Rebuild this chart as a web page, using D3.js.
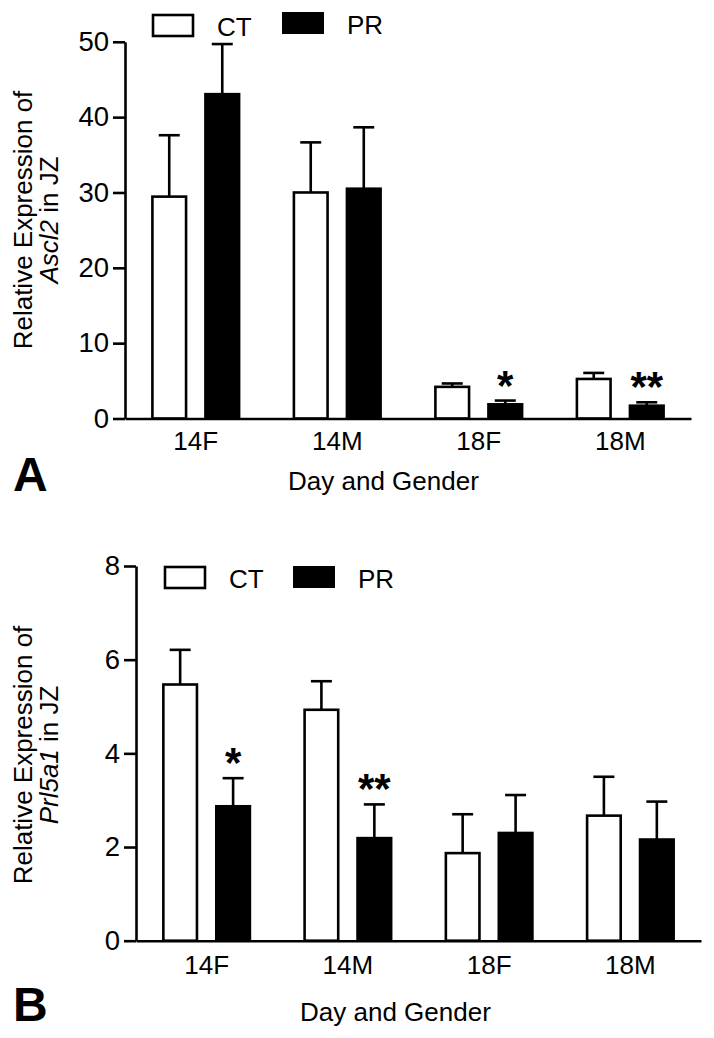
<!DOCTYPE html>
<html>
<head>
<meta charset="utf-8">
<script src="https://cdn.jsdelivr.net/npm/d3@7/dist/d3.min.js"></script>
<style>
  html, body { margin: 0; padding: 0; background: #fff; }
  svg { display: block; font-family: "Liberation Sans", Arial, Helvetica, sans-serif; }
</style>
</head>
<body>
<svg id="chart" width="714" height="1038"></svg>
<script>
// ---- data ----
const categories = ["14F", "14M", "18F", "18M"];
const seriesNames = ["CT", "PR"];

// Panel A: Ascl2
const ascl2CT = [29.45, 30.0, 4.2, 5.25];
const ascl2CTErr = [8.15, 6.65, 0.45, 0.8];
const ascl2PR = [43.05, 30.5, 1.88, 1.7];
const ascl2PRErr = [6.65, 8.15, 0.5, 0.45];
const ascl2Stars = ["", "", "*", "**"]; // on PR bars
const ascl2Ticks = [0, 10, 20, 30, 40, 50];

// Panel B: Prl5a1
const prl5a1CT = [5.47, 4.93, 1.87, 2.67];
const prl5a1CTErr = [0.74, 0.61, 0.83, 0.83];
const prl5a1PR = [2.87, 2.19, 2.3, 2.16];
const prl5a1PRErr = [0.6, 0.72, 0.81, 0.81];
const prl5a1Stars = ["*", "**", "", ""];
const prl5a1Ticks = [0, 2, 4, 6, 8];

const svg = d3.select("#chart");
const FS = 26;
const TICK_FS = 27.5;

function panel(opts) {
  const g = svg.append("g");
  const x0 = d3.scaleBand().domain(categories).range([opts.left, opts.right]).padding(0);
  const x1 = d3.scaleBand().domain(seriesNames).range([0, x0.bandwidth()])
    .paddingInner(0.32).paddingOuter(0.494);
  const y = d3.scaleLinear().domain([0, opts.max]).range([opts.bottom, opts.top]);

  const rows = categories.map((c, i) => ({
    cat: c,
    vals: [
      { s: "CT", v: opts.ct[i], e: opts.ctErr[i], star: "" },
      { s: "PR", v: opts.pr[i], e: opts.prErr[i], star: opts.stars[i] }
    ]
  }));

  const grp = g.selectAll("g.grp").data(rows).enter().append("g")
    .attr("transform", d => `translate(${x0(d.cat)},0)`);

  const bw = x1.bandwidth();
  const items = grp.selectAll("g.bar").data(d => d.vals).enter().append("g");

  // error bars (upward only)
  items.append("line")
    .attr("x1", d => x1(d.s) + bw / 2).attr("x2", d => x1(d.s) + bw / 2)
    .attr("y1", d => y(d.v)).attr("y2", d => y(d.v + d.e))
    .attr("stroke", "#000").attr("stroke-width", 2.6);
  items.append("line")
    .attr("x1", d => x1(d.s) + bw / 2 - 10.5).attr("x2", d => x1(d.s) + bw / 2 + 10.5)
    .attr("y1", d => y(d.v + d.e)).attr("y2", d => y(d.v + d.e))
    .attr("stroke", "#000").attr("stroke-width", 2.6);

  items.append("rect")
    .attr("x", d => x1(d.s) + 1.2)
    .attr("width", bw - 2.4)
    .attr("y", d => y(d.v))
    .attr("height", d => y(0) - y(d.v))
    .attr("fill", d => d.s === "CT" ? "#fff" : "#000")
    .attr("stroke", "#000").attr("stroke-width", 2.6);

  items.filter(d => d.star).append("text")
    .attr("x", d => x1(d.s) + bw / 2)
    .attr("y", d => y(d.v + d.e) - 1)
    .attr("text-anchor", "middle")
    .attr("font-size", 42).attr("font-weight", "bold")
    .text(d => d.star);

  // y axis
  const yAxis = d3.axisLeft(y).tickValues(opts.ticks).tickSize(12).tickSizeOuter(0).tickPadding(4)
    .tickFormat(d3.format("d"));
  const ya = g.append("g").attr("transform", `translate(${opts.left},0)`).call(yAxis);
  ya.select(".domain").attr("stroke", "#000").attr("stroke-width", 2.6);
  ya.selectAll(".tick line").attr("stroke", "#000").attr("stroke-width", 2.6);
  ya.selectAll(".tick text").attr("font-size", TICK_FS).attr("fill", "#000")
    .attr("font-family", "Liberation Sans, Arial, sans-serif");

  // x axis
  const xAxis = d3.axisBottom(x0).tickSize(0).tickSizeOuter(0).tickPadding(12);
  const xa = g.append("g").attr("transform", `translate(0,${opts.bottom})`).call(xAxis);
  xa.select(".domain").attr("stroke", "#000").attr("stroke-width", 2.6);
  xa.selectAll(".tick text").attr("font-size", FS).attr("fill", "#000")
    .attr("font-family", "Liberation Sans, Arial, sans-serif")
    .attr("dy", null).attr("y", opts.xLabelDy);

  // x title
  g.append("text").attr("x", opts.xTitleX).attr("y", opts.xTitleY)
    .attr("font-size", FS).text("Day and Gender");

  // y title
  const yt = g.append("text").attr("transform", `translate(32,${opts.yTitleC}) rotate(-90)`)
    .attr("text-anchor", "middle").attr("font-size", FS);
  yt.text("Relative Expression of");
  const t2 = g.append("text").attr("transform", `translate(58,${opts.yTitleC}) rotate(-90)`)
    .attr("text-anchor", "middle").attr("font-size", FS);
  t2.append("tspan").attr("font-style", "italic").text(opts.gene);
  t2.append("tspan").text(" in JZ");

  // panel letter
  g.append("text").attr("x", 13).attr("y", opts.letterY)
    .attr("font-size", 48).attr("font-weight", "bold").text(opts.letter);

  // legend
  const lg = opts.legend;
  g.append("rect").attr("x", lg.ctX).attr("y", lg.ctY).attr("width", 40).attr("height", 21)
    .attr("fill", "#fff").attr("stroke", "#000").attr("stroke-width", 2.6);
  g.append("text").attr("x", lg.ctX + 64).attr("y", lg.ctY + 20.5).attr("font-size", FS).text(seriesNames[0]);
  g.append("rect").attr("x", lg.prX).attr("y", lg.prY).attr("width", 42).attr("height", 22)
    .attr("fill", "#000");
  g.append("text").attr("x", lg.prX + 65).attr("y", lg.prY + 22).attr("font-size", FS).text(seriesNames[1]);
}

panel({
  left: 125, right: 691, top: 41.8, bottom: 418.5, max: 50,
  ct: ascl2CT, ctErr: ascl2CTErr, pr: ascl2PR, prErr: ascl2PRErr, stars: ascl2Stars,
  ticks: ascl2Ticks, gene: "Ascl2", letter: "A", letterY: 491,
  xLabelDy: 31, xTitleX: 288, xTitleY: 490, yTitleC: 220,
  legend: { ctX: 153, ctY: 15, prX: 282, prY: 12 }
});

panel({
  left: 136, right: 701, top: 566, bottom: 940.7, max: 8,
  ct: prl5a1CT, ctErr: prl5a1CTErr, pr: prl5a1PR, prErr: prl5a1PRErr, stars: prl5a1Stars,
  ticks: prl5a1Ticks, gene: "Prl5a1", letter: "B", letterY: 1021,
  xLabelDy: 33, xTitleX: 300, xTitleY: 1021, yTitleC: 755,
  legend: { ctX: 165, ctY: 567, prX: 293, prY: 566 }
});
</script>
</body>
</html>
